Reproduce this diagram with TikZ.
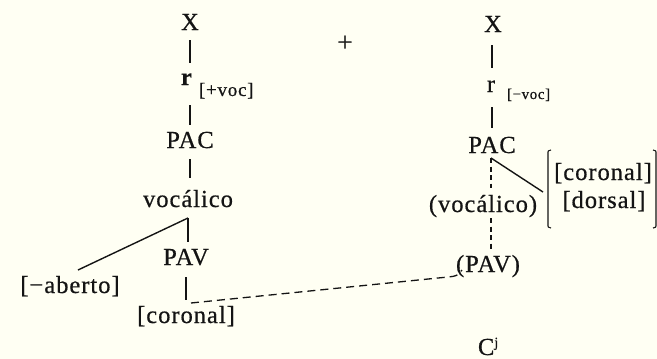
\documentclass[tikz,border=0pt]{standalone}
\usepackage{fontspec}
\setmainfont{Liberation Serif}[LetterSpace=4,FakeBold=0.6]
\usetikzlibrary{calc}
\definecolor{bg}{RGB}{255,255,243}
\definecolor{ink}{RGB}{20,20,20}
\begin{document}
\begin{tikzpicture}[x=1pt,y=-1pt,
  lab/.style={inner sep=0pt, outer sep=0pt, anchor=base, text=ink, font=\fontsize{24.5}{28}\selectfont},
  sm/.style={lab, anchor=base west, font=\fontsize{19}{22}\selectfont},
  xs/.style={lab, anchor=base west, font=\fontsize{15}{18}\selectfont},
  link/.style={draw=ink, line width=1.4pt},
  dlink/.style={draw=ink, line width=1.1pt, dash pattern=on 5pt off 3.5pt},
  hlink/.style={draw=ink, line width=1.3pt, dash pattern=on 8pt off 5pt},
  brk/.style={draw=ink, line width=1.1pt}]
\useasboundingbox[fill=bg] (0,0) rectangle (657,359);
% left tree
\node[lab] (xl) at (190,30) {X};
\node[lab] (rl) at (187,85) {\textbf{r}};
\node[sm] (pvl) at (199,96) {[+voc]};
\node[lab] (pacl) at (190,148) {PAC};
\node[lab] (vocl) at (188,207) {vocálico};
\node[lab] (abl) at (70,293) {[−aberto]};
\node[lab] (pavl) at (186,265) {PAV};
\node[lab] (corl) at (186,323) {[coronal]};
\node[lab, font=\fontsize{27}{30}\selectfont] (plus) at (345,51) {+};
% right tree
\node[lab] (xr) at (493,32) {X};
\node[lab] (rr) at (491,92) {r};
\node[xs] (mvr) at (507,99) {[−voc]};
\node[lab] (pacr) at (492,153) {PAC};
\node[lab] (vocr) at (483,212) {(vocálico)};
\node[lab] (cor2) at (603,180) {[coronal]};
\node[lab] (dors) at (604,208) {[dorsal]};
\node[lab] (pavr) at (488,272) {(PAV)};
\node[lab, anchor=base west] (cj) at (478,355) {C\raisebox{8pt}{\fontsize{14}{14}\selectfont j}};
% left connectors
\draw[link] ($(xl.base)+(0,10)$) -- ($(rl.base)+(3,-22)$);
\draw[link] ($(rl.base)+(3,20)$) -- ($(pacl.base)+(0,-23)$);
\draw[link] ($(pacl.base)+(0,11)$) -- ($(vocl.base)+(2,-29)$);
\draw[link] ($(vocl.base)+(0,11)$) -- ($(pavl.base)+(2,-23)$);
\draw[link] ($(vocl.base)+(0,11)$) -- ($(abl.base)+(8,-23)$);
\draw[link] ($(pavl.base)+(0,12)$) -- ($(corl.base)+(0,-23)$);
\draw[hlink] ($(corl.base)+(5,-20)$) -- ($(pavr.base)+(-40,5)$) .. controls ($(pavr.base)+(-31,4)$) .. ($(pavr.base)+(-26,-2)$);
% right connectors
\draw[link] ($(xr.base)+(-1,13)$) -- ($(rr.base)+(1,-24)$);
\draw[link] ($(rr.base)+(1,15)$) -- ($(pacr.base)+(0,-25)$);
\draw[dlink] ($(pacr.base)+(-1,5)$) -- ($(vocr.base)+(8,-24)$);
\draw[dlink] ($(vocr.base)+(8,6)$) -- ($(pavr.base)+(3,-22)$);
\draw[link] ($(pacr.base)+(-1,5)$) -- ($(cor2.base)+(-60,12)$);
% brackets
\draw[brk] ($(cor2.base)+(-52,-30)$) .. controls ($(cor2.base)+(-55,-29.5)$) .. ($(cor2.base)+(-55,-26)$) -- ($(cor2.base)+(-55,44)$) .. controls ($(cor2.base)+(-55,47.5)$) .. ($(cor2.base)+(-52,48)$);
\draw[brk] ($(cor2.base)+(50,-30)$) .. controls ($(cor2.base)+(53,-29.5)$) .. ($(cor2.base)+(53,-26)$) -- ($(cor2.base)+(53,44)$) .. controls ($(cor2.base)+(53,47.5)$) .. ($(cor2.base)+(50,48)$);
\end{tikzpicture}
\end{document}
